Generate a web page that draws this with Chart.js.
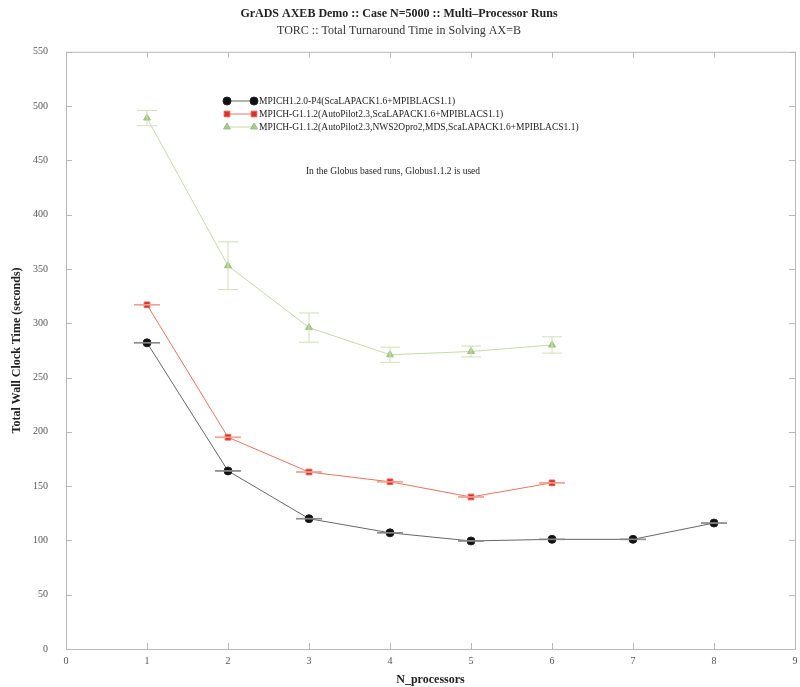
<!DOCTYPE html>
<html>
<head>
<meta charset="utf-8">
<script src="https://cdn.jsdelivr.net/npm/chart.js@4"></script>
<style>
  html, body { margin: 0; padding: 0; background: #fff; }
  #wrap { width: 800px; height: 687px; }
</style>
</head>
<body>
<div id="wrap"><canvas id="Chart1"></canvas></div>
<script>
// data
const nProcs = [1, 2, 3, 4, 5, 6, 7, 8];
const p4Times = [282, 164, 120, 107, 99.5, 101, 101, 116];
const gTimes = [317, 195, 163, 154, 140, 153];
const nwsTimes = [489, 353, 296, 271, 274, 280];
const p4Err = [0.3, 0.3, 0.3, 0.3, 0.3, 0.3, 0.3, 0.3];
const gErr = [0.3, 0.3, 0.3, 0.3, 0.3, 0.3];
const nwsErr = [7, 22, 13.5, 7, 5, 7.5];
const yTicks = [0, 50, 100, 150, 200, 250, 300, 350, 400, 450, 500, 550];
const xTicks = [0, 1, 2, 3, 4, 5, 6, 7, 8, 9];

const labels = [
  'MPICH1.2.0-P4(ScaLAPACK1.6+MPIBLACS1.1)',
  'MPICH-G1.1.2(AutoPilot2.3,ScaLAPACK1.6+MPIBLACS1.1)',
  'MPICH-G1.1.2(AutoPilot2.3,NWS2Opro2,MDS,ScaLAPACK1.6+MPIBLACS1.1)'
];
const note = 'In the Globus based runs, Globus1.1.2 is used';

const serif = '"Liberation Serif", "DejaVu Serif", serif';

function pts(xs, ys) {
  return ys.map((v, i) => ({ x: xs[i], y: v }));
}

const data = {
  datasets: [{
    label: labels[0],
    data: pts(nProcs, p4Times),
    err: p4Err,
    capW: 13,
    borderColor: '#666',
    backgroundColor: '#111',
    pointBorderColor: '#222',
    pointStyle: 'circle',
    pointRadius: 4,
    borderWidth: 1,
    barColor: '#888'
  }, {
    label: labels[1],
    data: pts(nProcs, gTimes),
    err: gErr,
    capW: 13,
    borderColor: '#e8735e',
    backgroundColor: '#d8302a',
    pointBorderColor: '#e06050',
    pointStyle: 'rect',
    pointRadius: 4,
    borderWidth: 1,
    barColor: '#f0a090'
  }, {
    label: labels[2],
    data: pts(nProcs, nwsTimes),
    err: nwsErr,
    capW: 10,
    borderColor: '#c4dba6',
    backgroundColor: '#a9c98a',
    pointBorderColor: '#9cbf7c',
    pointStyle: 'triangle',
    pointRadius: 4,
    borderWidth: 1,
    barColor: '#cfe0b8'
  }]
};

// vertical error bars with caps
const errorBars = {
  id: 'errorBars',
  afterDatasetsDraw(chart) {
    const ctx = chart.ctx;
    const y = chart.scales.y;
    chart.data.datasets.forEach((ds, di) => {
      const meta = chart.getDatasetMeta(di);
      ctx.save();
      ctx.strokeStyle = ds.barColor;
      ctx.lineWidth = 1;
      meta.data.forEach((pt, i) => {
        const v = ds.data[i].y;
        const e = ds.err[i];
        const top = y.getPixelForValue(v + e);
        const bot = y.getPixelForValue(v - e);
        ctx.beginPath();
        ctx.moveTo(pt.x, top); ctx.lineTo(pt.x, bot);
        ctx.moveTo(pt.x - ds.capW, top); ctx.lineTo(pt.x + ds.capW, top);
        ctx.moveTo(pt.x - ds.capW, bot); ctx.lineTo(pt.x + ds.capW, bot);
        ctx.stroke();
      });
      ctx.restore();
    });
  }
};

// frame, inward ticks, legend box and note
const decor = {
  id: 'decor',
  beforeDatasetsDraw(chart) {
    const ctx = chart.ctx;
    const a = chart.chartArea;
    const xs = chart.scales.x, ys = chart.scales.y;
    ctx.save();
    ctx.strokeStyle = '#b8b8b8';
    ctx.lineWidth = 1;
    ctx.strokeRect(a.left + 0.5, a.top + 0.5, a.right - a.left, a.bottom - a.top);
    ctx.beginPath();
    xs.ticks.forEach(t => {
      const px = Math.round(xs.getPixelForValue(t.value)) + 0.5;
      ctx.moveTo(px, a.bottom); ctx.lineTo(px, a.bottom - 6);
      ctx.moveTo(px, a.top); ctx.lineTo(px, a.top + 6);
    });
    ys.ticks.forEach(t => {
      const py = Math.round(ys.getPixelForValue(t.value)) + 0.5;
      ctx.moveTo(a.left, py); ctx.lineTo(a.left + 6, py);
      ctx.moveTo(a.right, py); ctx.lineTo(a.right - 6, py);
    });
    ctx.stroke();
    ctx.restore();
  },
  afterDraw(chart) {
    const ctx = chart.ctx;
    ctx.save();
    const rows = [101, 114, 127];
    chart.data.datasets.forEach((ds, i) => {
      const yy = rows[i];
      ctx.strokeStyle = ds.borderColor;
      ctx.lineWidth = 1;
      ctx.beginPath();
      ctx.moveTo(227, yy); ctx.lineTo(254, yy);
      ctx.stroke();
      [227, 254].forEach(px => {
        ctx.fillStyle = ds.backgroundColor;
        ctx.strokeStyle = ds.pointBorderColor;
        Chart.helpers.drawPoint(ctx, {
          pointStyle: ds.pointStyle,
          radius: ds.pointRadius,
          borderWidth: 1
        }, px, yy);
      });
      ctx.fillStyle = '#222';
      ctx.font = '9.5px ' + serif;
      ctx.textBaseline = 'middle';
      ctx.textAlign = 'left';
      ctx.fillText(ds.label, 259, yy + 0.5);
    });
    ctx.font = '9.5px ' + serif;
    ctx.fillStyle = '#222';
    ctx.textAlign = 'center';
    ctx.fillText(note, 393, 171);
    ctx.restore();
  }
};

const config = {
  type: 'line',
  data: data,
  options: {
    responsive: true,
    maintainAspectRatio: false,
    animation: false,
    layout: { padding: { left: 0, right: 2, top: 0, bottom: 0 } },
    plugins: {
      legend: { display: false },
      tooltip: { enabled: false },
      title: {
        display: true,
        text: 'GrADS AXEB Demo :: Case N=5000 :: Multi\u2013Processor Runs',
        color: '#222',
        font: { family: serif, size: 12, weight: 'bold' },
        padding: { top: 7, bottom: 2 }
      },
      subtitle: {
        display: true,
        text: 'TORC :: Total Turnaround Time in Solving AX=B',
        color: '#333',
        font: { family: serif, size: 12 },
        padding: { top: 0, bottom: 14 }
      }
    },
    scales: {
      x: {
        type: 'linear',
        min: 0, max: 9,
        afterBuildTicks: s => { s.ticks = xTicks.map(v => ({ value: v })); },
        afterFit: s => { s.height = 38; },
        grid: { display: false },
        border: { display: false },
        ticks: { color: '#555', font: { family: serif, size: 10 }, padding: -2 },
        title: {
          display: true,
          text: 'N_processors',
          color: '#222',
          font: { family: serif, size: 12, weight: 'bold' },
          padding: { top: 0, bottom: 0 }
        }
      },
      y: {
        min: 0, max: 550,
        afterBuildTicks: s => { s.ticks = yTicks.map(v => ({ value: v })); },
        afterFit: s => { s.width = 66; },
        grid: { display: false },
        border: { display: false },
        ticks: { color: '#555', font: { family: serif, size: 10 }, padding: 10 },
        title: {
          display: true,
          text: 'Total Wall Clock Time (seconds)',
          color: '#222',
          font: { family: serif, size: 12, weight: 'bold' },
          padding: { top: 10, bottom: 0 }
        }
      }
    }
  },
  plugins: [decor, errorBars]
};

const myChart = new Chart(document.getElementById('Chart1'), config);
</script>
</body>
</html>
